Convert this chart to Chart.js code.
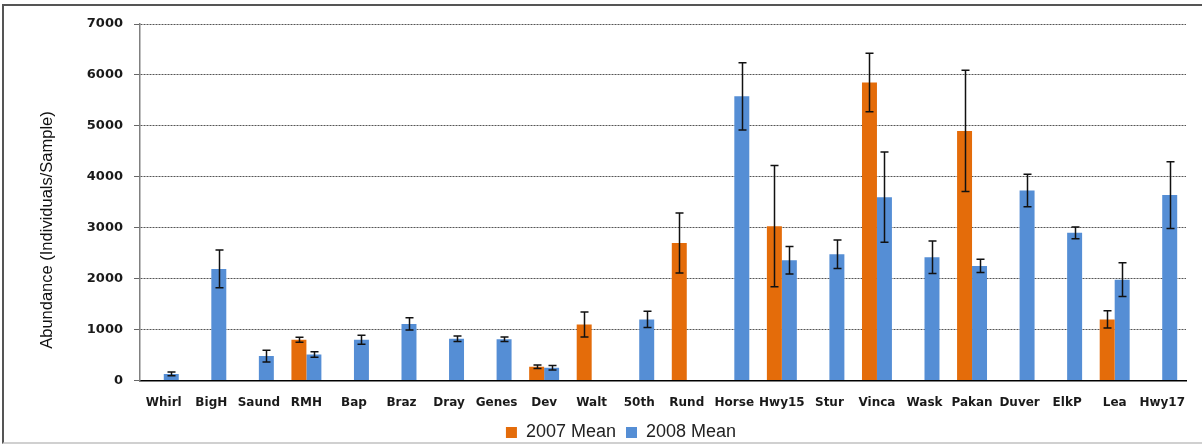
<!DOCTYPE html>
<html>
<head>
<meta charset="utf-8">
<script src="https://cdn.jsdelivr.net/npm/chart.js@4.4.1/dist/chart.umd.min.js"></script>
<style>
  html, body { margin: 0; padding: 0; background: #fff; }
  #wrap { position: relative; width: 1202px; height: 445px; overflow: hidden; }
  #frame {
    position: absolute; left: 2px; top: 4px; right: -4px; bottom: 1px;
    border-top: 2px solid #555; border-left: 2px solid #555; border-bottom: 2px solid #d0d0d0;
    pointer-events: none;
  }
  canvas { position: absolute; left: 0; top: 0; }
</style>
</head>
<body>
<div id="wrap">
  <canvas id="abundanceChart" width="1202" height="445"></canvas>
  <div id="frame"></div>
</div>
<script>
// sites, in plotting order
const sites = ['Whirl', 'BigH', 'Saund', 'RMH', 'Bap', 'Braz', 'Dray', 'Genes', 'Dev', 'Walt', '50th',
  'Rund', 'Horse', 'Hwy15', 'Stur', 'Vinca', 'Wask', 'Pakan', 'Duver', 'ElkP', 'Lea', 'Hwy17'];

// mean abundance per sample and its error
const mean2007 = [null, null, null, 800, null, null, null, null, 270, 1100, null,
  2700, null, 3030, null, 5850, null, 4900, null, null, 1200, null];
const err2007 = [null, null, null, 50, null, null, null, null, 35, 245, null,
  590, null, 1190, null, 575, null, 1190, null, null, 170, null];

const mean2008 = [130, 2190, 480, 510, 800, 1110, 820, 810, 250, null, 1200,
  null, 5580, 2360, 2480, 3600, 2420, 2250, 3730, 2900, 1980, 3640];
const err2008 = [35, 370, 115, 55, 88, 120, 55, 45, 43, null, 160,
  null, 660, 270, 280, 885, 320, 130, 320, 115, 330, 655];

const yTicks = [0, 1000, 2000, 3000, 4000, 5000, 6000, 7000];

const ORANGE = '#E46C0A';
const BLUE = '#558ED5';

// draws +/- error whiskers on top of every bar
const errorBars = {
  id: 'errorBars',
  afterDatasetsDraw(chart) {
    const ctx = chart.ctx;
    const y = chart.scales.y;
    ctx.save();
    ctx.strokeStyle = '#111';
    ctx.lineWidth = 1.5;
    chart.data.datasets.forEach((ds, di) => {
      const meta = chart.getDatasetMeta(di);
      meta.data.forEach((bar, i) => {
        const v = ds.data[i];
        const e = ds.errors[i];
        if (v == null || e == null) return;
        const x = Math.round(bar.x) + 0.5;
        const top = y.getPixelForValue(v + e);
        const bot = y.getPixelForValue(v - e);
        ctx.beginPath();
        ctx.moveTo(x, top); ctx.lineTo(x, bot);
        ctx.moveTo(x - 4, top); ctx.lineTo(x + 4, top);
        ctx.moveTo(x - 4, bot); ctx.lineTo(x + 4, bot);
        ctx.stroke();
      });
    });
    ctx.restore();
  }
};

// y-axis title, sits a little below the middle of the plot
const yTitle = {
  id: 'yTitle',
  afterDraw(chart) {
    const ctx = chart.ctx;
    ctx.save();
    ctx.translate(47, 230);
    ctx.rotate(-Math.PI / 2);
    ctx.font = '16.5px "Liberation Sans", Arial, sans-serif';
    ctx.fillStyle = '#111';
    ctx.textAlign = 'center';
    ctx.textBaseline = 'middle';
    ctx.fillText('Abundance (Individuals/Sample)', 0, 0);
    ctx.restore();
  }
};

// move the legend a bit right of the canvas centre
const legendShift = {
  id: 'legendShift',
  afterLayout(chart) {
    chart.legend.left += 26;
    chart.legend.right += 26;
  }
};

new Chart(document.getElementById('abundanceChart'), {
  type: 'bar',
  data: {
    labels: sites,
    datasets: [
      { label: '2007 Mean', data: mean2007, errors: err2007, backgroundColor: ORANGE },
      { label: '2008 Mean', data: mean2008, errors: err2008, backgroundColor: BLUE }
    ]
  },
  options: {
    responsive: false,
    animation: false,
    devicePixelRatio: 1,
    categoryPercentage: 0.63,
    barPercentage: 1.0,
    layout: { padding: { left: 4, right: 16, top: 24, bottom: -6.5 } },
    scales: {
      x: {
        grid: { display: false, drawTicks: false },
        border: { display: true, color: '#000', width: 1.5 },
        ticks: {
          color: '#1a1a1a',
          padding: 15,
          maxRotation: 0,
          autoSkip: false,
          font: { family: '"DejaVu Sans", Verdana, sans-serif', size: 12, weight: 'bold' }
        },
        afterFit(scale) { scale.height = 33; }
      },
      y: {
        min: 0,
        max: 7000,
        afterBuildTicks(scale) { scale.ticks = yTicks.map(v => ({ value: v })); },
        grid: {
          color: '#555',
          lineWidth: 1,
          borderDash: [2, 1],
          tickLength: 6,
          tickColor: '#666',
          tickBorderDash: []
        },
        border: { display: true, color: '#808080', width: 1.5, dash: [2, 1] },
        ticks: {
          color: '#1a1a1a',
          padding: 11,
          callback: v => String(v),
          font: { family: '"DejaVu Sans", Verdana, sans-serif', size: 13, weight: 'bold' }
        },
        afterFit(scale) { scale.width = 136; }
      }
    },
    plugins: {
      legend: {
        position: 'bottom',
        labels: {
          boxWidth: 11,
          boxHeight: 11,
          padding: 10,
          color: '#222',
          font: { family: '"Liberation Sans", Arial, sans-serif', size: 18 }
        }
      },
      tooltip: { enabled: false }
    }
  },
  plugins: [errorBars, yTitle, legendShift]
});
</script>
</body>
</html>
